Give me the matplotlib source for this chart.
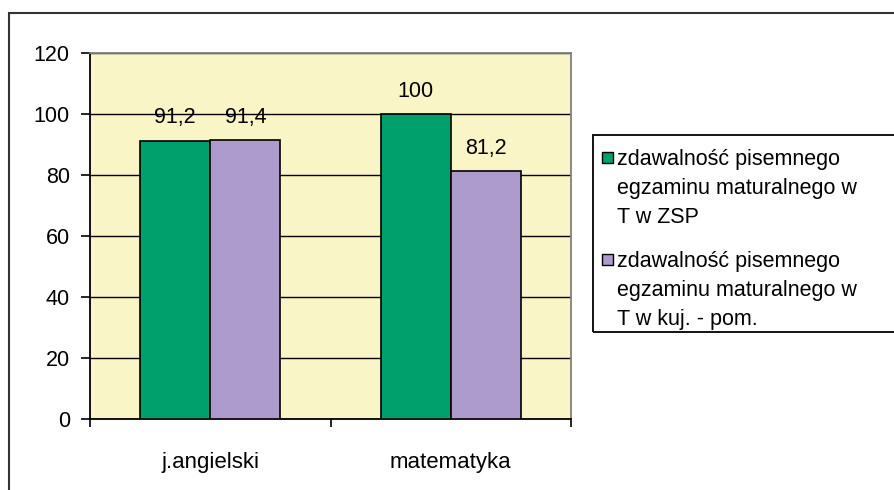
import matplotlib
matplotlib.use("Agg")
import matplotlib.pyplot as plt
from matplotlib.patches import Rectangle
import numpy as np

plt.rcParams["font.family"] = ["Liberation Sans", "DejaVu Sans"]

subjects = ["j.angielski", "matematyka"]
zsp_values = [91.2, 100]
region_values = [91.4, 81.2]
zsp_labels = ["91,2", "100"]
region_labels = ["91,4", "81,2"]
series_names = [
    "zdawalność pisemnego\negzaminu maturalnego w\nT w ZSP",
    "zdawalność pisemnego\negzaminu maturalnego w\nT w kuj. - pom.",
]
y_ticks = [0, 20, 40, 60, 80, 100, 120]

GREEN = "#00A06C"
PURPLE = "#AC9BCC"
BG = "#FAF5C6"
FS = 15.5

W, H = 895, 490
fig = plt.figure(figsize=(W / 100, H / 100), dpi=100)
ax = fig.add_axes([90 / W, 1 - 419 / H, 481 / W, 366 / H])
ax.set_facecolor(BG)

x = np.arange(len(subjects))
w = 70 / 240
b1 = ax.bar(x - w / 2, zsp_values, w, color=GREEN, edgecolor="black", linewidth=1.2,
            label=series_names[0], zorder=3)
b2 = ax.bar(x + w / 2, region_values, w, color=PURPLE, edgecolor="black", linewidth=1.2,
            label=series_names[1], zorder=3)

for bars, labels in ((b1, zsp_labels), (b2, region_labels)):
    for rect, txt in zip(bars, labels):
        ax.annotate(txt, (rect.get_x() + rect.get_width() / 2, rect.get_height()),
                    xytext=(0, 9), textcoords="offset points",
                    ha="center", va="bottom", fontsize=FS, zorder=4)

ax.set_xlim(-0.5, 1.5)
ax.set_ylim(0, 120)
ax.set_yticks(y_ticks)
ax.set_yticklabels([str(v) for v in y_ticks])
ax.yaxis.grid(True, color="black", linewidth=1.0, zorder=1)
ax.tick_params(axis="y", direction="out", length=6.5, width=1.2, pad=8, labelsize=FS)

ax.set_xticks([-0.5, 0.5, 1.5])
ax.set_xticklabels(["", "", ""])
ax.set_xticks(x, minor=True)
ax.set_xticklabels(subjects, minor=True)
ax.tick_params(axis="x", which="major", direction="out", length=6, width=1.2)
ax.tick_params(axis="x", which="minor", length=0, pad=24, labelsize=16)

for side in ("left", "bottom"):
    ax.spines[side].set_color("black")
    ax.spines[side].set_linewidth(1.3)
for side in ("top", "right"):
    ax.spines[side].set_color("#808080")
    ax.spines[side].set_linewidth(1.3)

# legend drawn by hand: marker squares sit on the first line of each entry
px = lambda xp, yp: (xp / W, 1 - yp / H)
fig.patches.append(Rectangle(px(593, 332), (W + 10 - 593) / W, 197 / H,
                             transform=fig.transFigure, fill=False,
                             edgecolor="black", linewidth=1.3))
for base, color, name in ((165, GREEN, series_names[0]), (267, PURPLE, series_names[1])):
    fig.patches.append(Rectangle(px(602, base - 2), 11 / W, 11 / H,
                                 transform=fig.transFigure, facecolor=color,
                                 edgecolor="black", linewidth=1.0))
    for i, line in enumerate(name.split("\n")):
        fig.text(*px(617, base + 29 * i), line, fontsize=FS, ha="left", va="baseline")

# outer chart frame (runs off the right and bottom edges)
fig.patches.append(Rectangle(px(9, H + 20), 1.0, (H + 20 - 13) / H,
                             transform=fig.transFigure, fill=False,
                             edgecolor="#333333", linewidth=1.5))

fig.savefig("out.png", dpi=100)
